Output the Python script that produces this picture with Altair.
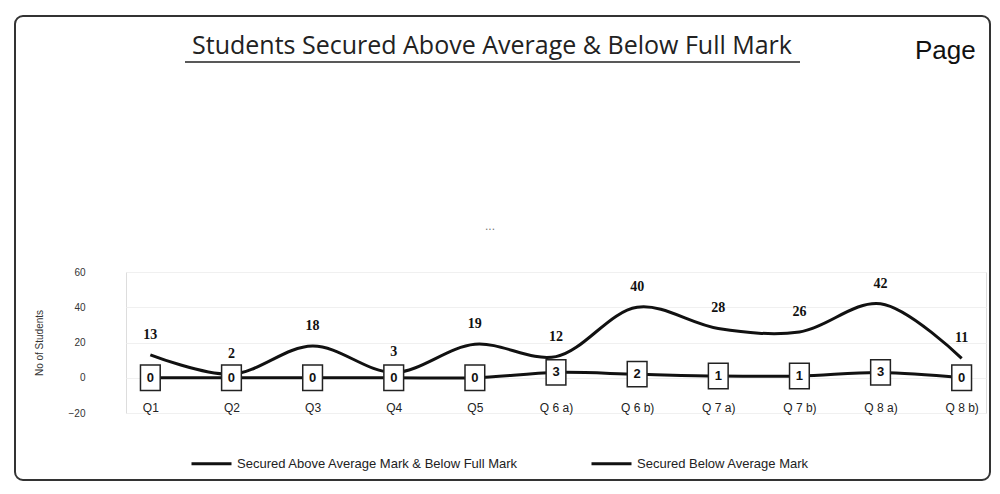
import altair as alt
import pandas as pd

questions = ["Q1", "Q2", "Q3", "Q4", "Q5", "Q 6 a)", "Q 6 b)", "Q 7 a)", "Q 7 b)", "Q 8 a)", "Q 8 b)"]
above_avg = [13, 2, 18, 3, 19, 12, 40, 28, 26, 42, 11]
below_avg = [0, 0, 0, 0, 0, 3, 2, 1, 1, 3, 0]
series_names = ["Secured Above Average  Mark & Below Full Mark", "Secured Below Average  Mark"]
y_ticks = [-20, 0, 20, 40, 60]
title_text = "Students Secured Above Average & Below Full Mark"

rows = []
for q, a, b in zip(questions, above_avg, below_avg):
    rows.append({"q": q, "series": series_names[0], "value": a})
    rows.append({"q": q, "series": series_names[1], "value": b})
df = pd.DataFrame(rows)
df_above = df[df.series == series_names[0]]
df_below = df[df.series == series_names[1]]

W, H = 860, 141
SANS = "Liberation Sans"

xenc = alt.X(
    "q:N", sort=questions,
    scale=alt.Scale(type="point", padding=0.3),
    axis=alt.Axis(title=None, domain=False, ticks=False, grid=False, labelAngle=0,
                  labelFont=SANS, labelFontSize=12, labelColor="#222",
                  labelBaseline="middle", labelPadding=-6),
)
yenc = alt.Y(
    "value:Q", scale=alt.Scale(domain=[-20, 60], nice=False, zero=False),
    axis=alt.Axis(values=y_ticks, title="No of Students", domain=False, ticks=False,
                  labelFont=SANS, labelFontSize=10, labelColor="#333",
                  labelPadding=41, titleFont=SANS, titleFontSize=10,
                  titleFontWeight="normal", titleColor="#333", titlePadding=24,
                  grid=True, gridColor="#f0f0f0"),
)
color = alt.Color(
    "series:N", scale=alt.Scale(domain=series_names, range=["#111111", "#111111"]),
    legend=alt.Legend(orient="none", legendX=64, legendY=170, direction="horizontal",
                      title=None, symbolType="stroke", symbolStrokeWidth=3,
                      symbolSize=1600, labelFont=SANS, labelFontSize=13,
                      labelColor="#222", columnPadding=62, labelLimit=400),
)

lines = alt.Chart(df).mark_line(interpolate="catmull-rom", strokeWidth=3).encode(
    x=xenc, y=yenc, color=color, detail="series:N"
)

above_labels = alt.Chart(df_above).mark_text(
    dy=-20, font="Liberation Serif", fontWeight="bold", fontSize=14, color="#111"
).encode(x=xenc, y=yenc, text="value:Q")

boxes = alt.Chart(df_below).mark_point(
    shape="M-0.78,-1L0.78,-1L0.78,1L-0.78,1Z", size=640, filled=True, fill="white",
    stroke="#222", strokeWidth=1.5, opacity=1
).encode(x=xenc, y=yenc)

box_labels = alt.Chart(df_below).mark_text(
    font=SANS, fontWeight="bold", fontSize=13, color="#111"
).encode(x=xenc, y=yenc, text="value:Q")

one = pd.DataFrame({"k": [0]})
title = alt.Chart(one).mark_text(
    text=title_text, font="Open Sans", fontSize=25, color="#222",
    align="center", baseline="alphabetic"
).encode(x=alt.value(366), y=alt.value(-218))
underline = alt.Chart(one).mark_rule(color="#222", strokeWidth=1.5).encode(
    x=alt.value(59), x2=alt.value(674), y=alt.value(-210)
)
page_text = alt.Chart(one).mark_text(
    text="Page", align="left", baseline="alphabetic", font=SANS,
    fontSize=26, color="#111"
).encode(x=alt.value(789), y=alt.value(-213))
dots = alt.Chart(one).mark_text(text="...", fontSize=12, color="#777").encode(
    x=alt.value(364), y=alt.value(-46)
)
frame = alt.Chart(one).mark_rect(
    fill=None, stroke="#333", strokeWidth=2, cornerRadius=8
).encode(x=alt.value(-111), x2=alt.value(864), y=alt.value(-256), y2=alt.value(208))

chart = alt.layer(
    frame, lines, boxes, box_labels, above_labels, title, underline, page_text, dots
).properties(
    width=W, height=H,
    autosize=alt.AutoSizeParams(type="none"),
    padding={"left": 118, "top": 264, "right": 6, "bottom": 70},
).configure_view(stroke=None).configure(background="white")

chart.save("out.html", embed_options={"renderer": "svg", "actions": False})
